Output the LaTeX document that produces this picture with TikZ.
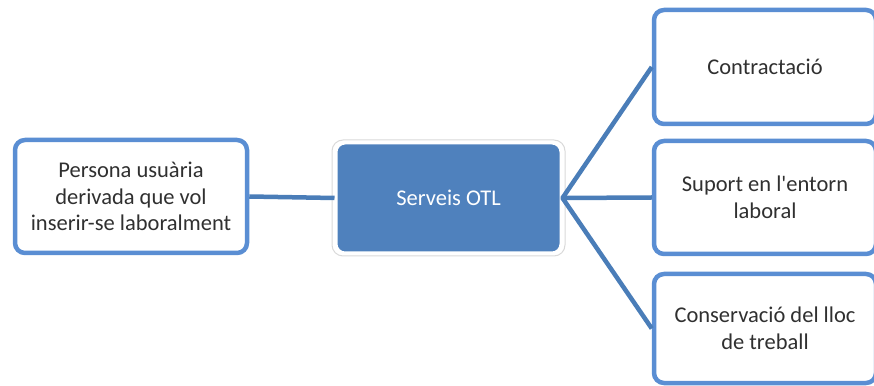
\documentclass[tikz,border=0pt]{standalone}
\usepackage{fontspec}
\setmainfont{Carlito}
\usetikzlibrary{positioning}
\definecolor{boxline}{HTML}{5A8ED3}
\definecolor{otlfill}{HTML}{4F81BD}
\definecolor{linkline}{HTML}{4A7DB8}
\definecolor{txt}{HTML}{303030}
\tikzset{
  stepbox/.style={draw=boxline, line width=4.5pt, fill=white, rounded corners=10pt,
    align=center, text=txt, font=\fontsize{22.5}{26.5}\selectfont},
  otlbox/.style={draw=white, line width=3pt, fill=otlfill, rounded corners=9pt,
    align=center, text=white, font=\fontsize{22.5}{26.5}\selectfont},
  link/.style={draw=linkline, line width=4.5pt}
}
\begin{document}
\begin{tikzpicture}[x=1pt,y=1pt]
\useasboundingbox (0,0) rectangle (874,385);
\clip (0,0) rectangle (874,385);

\node[stepbox, minimum width=232pt, minimum height=113pt] (persona) at (131,188.5)
  {Persona usuària\\derivada que vol\\inserir-se laboralment};
\draw[black!15, line width=1pt, rounded corners=11pt] (332,129) rectangle (565,245); %%halo
\node[otlbox, minimum width=225pt, minimum height=110pt] (otl) at (448.5,187) {Serveis OTL};

\node[stepbox, minimum width=222pt, minimum height=114pt] (contracte) at (765,318) {Contractació};
\node[stepbox, minimum width=222pt, minimum height=113pt] (suport) at (765,187.5) {Suport en l\textquotesingle entorn\\laboral};
\node[stepbox, minimum width=222pt, minimum height=109pt] (conserva) at (765,56.5) {Conservació del lloc\\de treball};

\draw[link] (persona.east) -- (otl.west); %%Left
\draw[link, line join=round] (contracte.west) -- (otl.east) -- (conserva.west); %%Top and bottom
\draw[link] (otl.east) -- (suport.west); %%Middle

\end{tikzpicture}
\end{document}
